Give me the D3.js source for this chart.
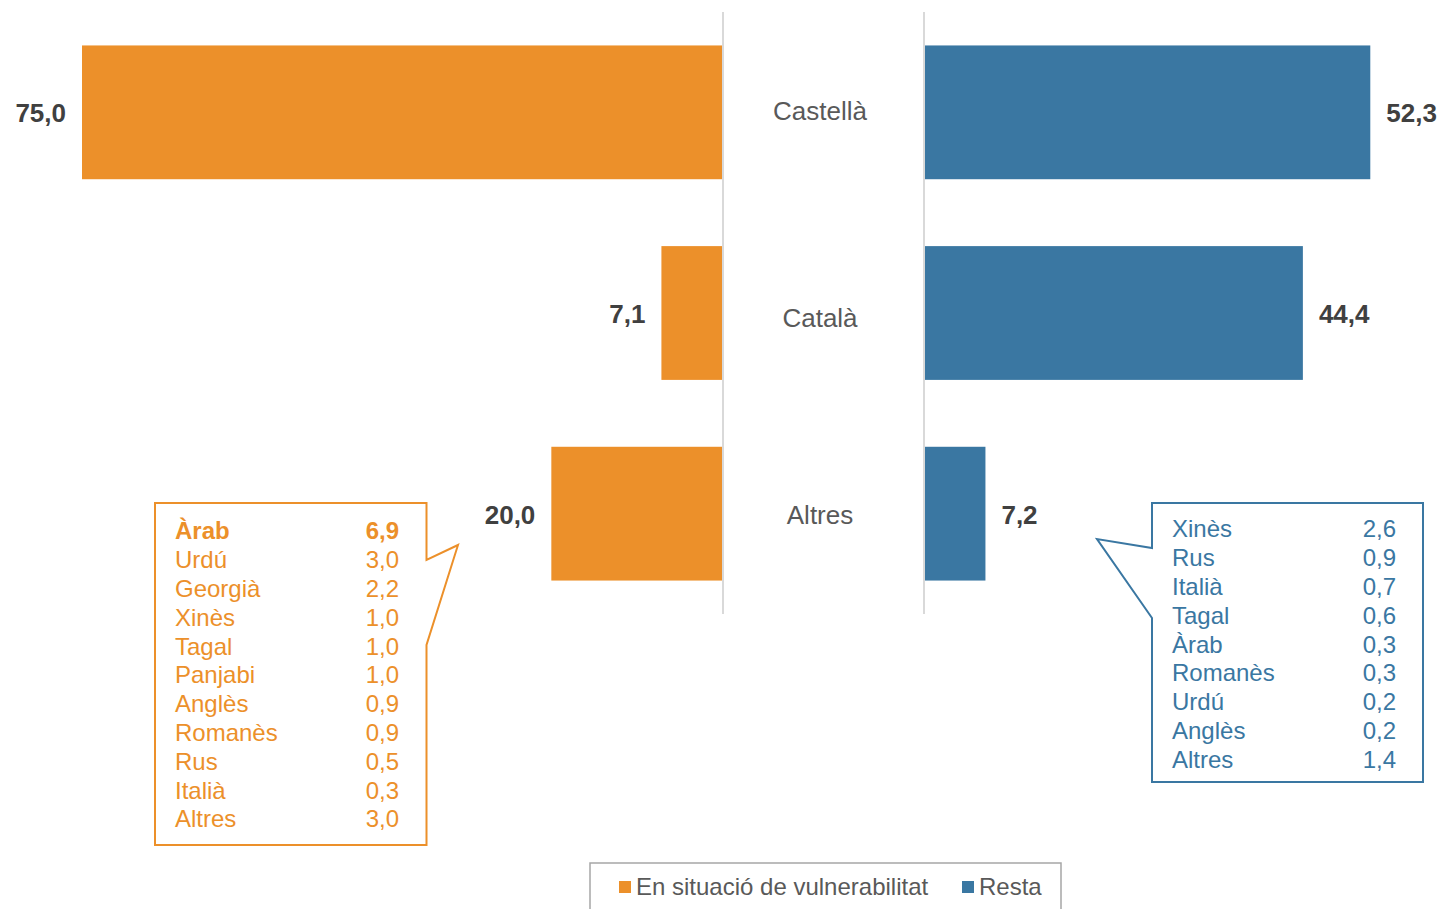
<!DOCTYPE html>
<html><head><meta charset="utf-8">
<script src="https://cdn.jsdelivr.net/npm/d3@7"></script>
<style>body{margin:0;background:#fff}svg{display:block}</style>
</head><body>
<script>
const categories = ["Castellà", "Català", "Altres"];
const vulnerable = [75.0, 7.1, 20.0];
const resta = [52.3, 44.4, 7.2];
const seriesNames = ["En situació de vulnerabilitat", "Resta"];
const otherVulnLangs = ["Àrab","Urdú","Georgià","Xinès","Tagal","Panjabi","Anglès","Romanès","Rus","Italià","Altres"];
const otherVulnVals = [6.9,3.0,2.2,1.0,1.0,1.0,0.9,0.9,0.5,0.3,3.0];
const otherRestaLangs = ["Xinès","Rus","Italià","Tagal","Àrab","Romanès","Urdú","Anglès","Altres"];
const otherRestaVals = [2.6,0.9,0.7,0.6,0.3,0.3,0.2,0.2,1.4];

const W = 1441, H = 909;
const orange = "#EC902A", blue = "#3A77A2";
const font = "'Liberation Sans', Arial, sans-serif";
const fmt = v => d3.format(".1f")(v).replace(".", ",");

const svg = d3.select("body").append("svg").attr("width", W).attr("height", H)
  .style("font-family", font);

const leftAxis = 722, rightAxis = 924, ppu = 640/75;
const xL = d3.scaleLinear().domain([0, 80]).range([leftAxis, leftAxis - ppu*80]);
const xR = d3.scaleLinear().domain([0, 80]).range([rightAxis, rightAxis + ppu*80]);
const y = d3.scaleBand().domain(categories).range([12, 614]).paddingInner(1/3).paddingOuter(1/6);

// axis lines
[leftAxis+1, rightAxis].forEach(x => {
  svg.append("line").attr("x1", x).attr("x2", x).attr("y1", 12).attr("y2", 614)
    .attr("stroke", "#d9d9d9").attr("stroke-width", 2);
});

// bars
svg.selectAll(".bl").data(categories).join("rect")
  .attr("x", (d,i) => xL(vulnerable[i])).attr("y", d => y(d))
  .attr("width", (d,i) => xL(0) - xL(vulnerable[i])).attr("height", y.bandwidth())
  .attr("fill", orange);
svg.selectAll(".br").data(categories).join("rect")
  .attr("x", xR(0) + 1).attr("y", d => y(d))
  .attr("width", (d,i) => xR(resta[i]) - xR(0) - 1).attr("height", y.bandwidth())
  .attr("fill", blue);

// value labels
svg.selectAll(".vl").data(categories).join("text")
  .attr("x", (d,i) => xL(vulnerable[i]) - 16).attr("y", d => y(d) + y.bandwidth()/2 + 1)
  .attr("dy", "0.35em").attr("text-anchor", "end")
  .attr("font-size", 26).attr("font-weight", "bold").attr("fill", "#404040")
  .text((d,i) => fmt(vulnerable[i]));
svg.selectAll(".vr").data(categories).join("text")
  .attr("x", (d,i) => xR(resta[i]) + 16).attr("y", d => y(d) + y.bandwidth()/2 + 1)
  .attr("dy", "0.35em").attr("text-anchor", "start")
  .attr("font-size", 26).attr("font-weight", "bold").attr("fill", "#404040")
  .text((d,i) => fmt(resta[i]));

// category labels
const catOffset = [0, 6, 2];
svg.selectAll(".cl").data(categories).join("text")
  .attr("x", 820).attr("y", (d,i) => y(d) + y.bandwidth()/2 + catOffset[i] - 1)
  .attr("dy", "0.35em").attr("text-anchor", "middle")
  .attr("font-size", 26).attr("fill", "#595959").text(d => d);

// left callout
svg.append("path")
  .attr("d", "M155,503 H426.5 V560 L458,545 L426.5,645 V845 H155 Z")
  .attr("fill", "#fff").attr("stroke", orange).attr("stroke-width", 2);
const gL = svg.append("g");
otherVulnLangs.forEach((l, i) => {
  const yy = 531 + i*28.8;
  gL.append("text").attr("x", 175).attr("y", yy).attr("dy", "0.35em")
    .attr("font-size", 24).attr("fill", orange).attr("font-weight", i === 0 ? "bold" : "normal").text(l);
  gL.append("text").attr("x", 399).attr("y", yy).attr("dy", "0.35em").attr("text-anchor", "end")
    .attr("font-size", 24).attr("fill", orange).attr("font-weight", i === 0 ? "bold" : "normal").text(fmt(otherVulnVals[i]));
});

// right callout
svg.append("path")
  .attr("d", "M1152,503 H1423 V782 H1152 V618 L1097,539 L1152,548 Z")
  .attr("fill", "#fff").attr("stroke", blue).attr("stroke-width", 2);
const gR = svg.append("g");
otherRestaLangs.forEach((l, i) => {
  const yy = 529 + i*28.8;
  gR.append("text").attr("x", 1172).attr("y", yy).attr("dy", "0.35em")
    .attr("font-size", 24).attr("fill", blue).text(l);
  gR.append("text").attr("x", 1396).attr("y", yy).attr("dy", "0.35em").attr("text-anchor", "end")
    .attr("font-size", 24).attr("fill", blue).text(fmt(otherRestaVals[i]));
});

// legend
svg.append("rect").attr("x", 590).attr("y", 863).attr("width", 471).attr("height", 80)
  .attr("fill", "#fff").attr("stroke", "#a6a6a6").attr("stroke-width", 1.5);
const legendItems = [
  {name: seriesNames[0], color: orange, x: 619},
  {name: seriesNames[1], color: blue, x: 962}
];
legendItems.forEach(it => {
  svg.append("rect").attr("x", it.x).attr("y", 881).attr("width", 12).attr("height", 12).attr("fill", it.color);
  svg.append("text").attr("x", it.x + 17).attr("y", 887).attr("dy", "0.35em")
    .attr("font-size", 24).attr("fill", "#595959").text(it.name);
});
</script>
</body></html>
